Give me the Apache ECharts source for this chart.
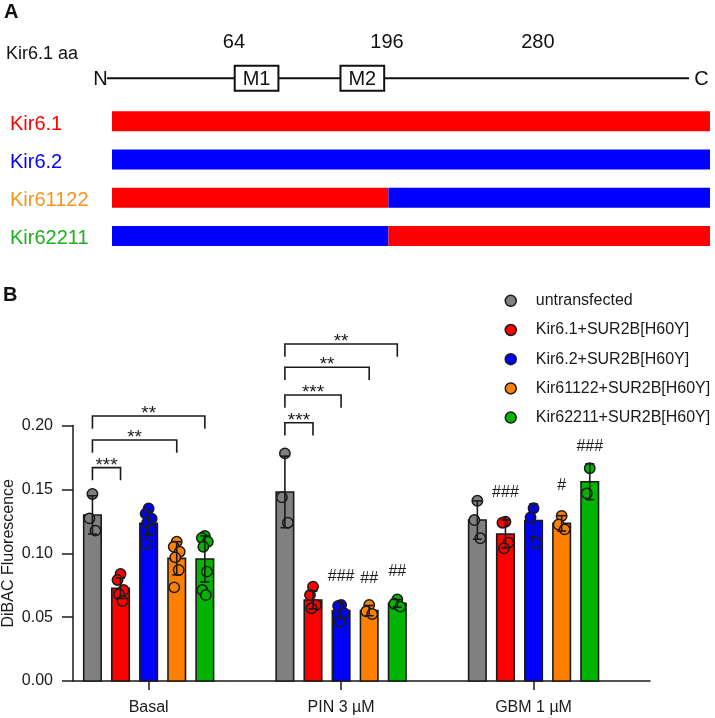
<!DOCTYPE html>
<html>
<head>
<meta charset="utf-8">
<script src="https://cdn.jsdelivr.net/npm/echarts@6/dist/echarts.min.js"></script>
<style>
  html, body { margin: 0; padding: 0; background: #fff; }
  #chart { width: 715px; height: 718px; }
</style>
</head>
<body>
<div id="chart"></div>
<script>
var myChart = echarts.init(document.getElementById('chart'));

// ---- panel A data ----
var constructs = ['Kir6.1', 'Kir6.2', 'Kir61122', 'Kir62211'];
var proteinLength = 424;
var firstSegment = [424, 424, 196, 196];
var secondSegment = [0, 0, 228, 228];
var domains = [['M1', 87, 118], ['M2', 162, 193]];
var residueLabels = [['64', 86.5], ['196', 195], ['280', 302]];

// ---- panel B data ----
var groups = ['Basal', 'PIN 3 µM', 'GBM 1 µM'];
var conditions = ['untransfected', 'Kir6.1+SUR2B[H60Y]', 'Kir6.2+SUR2B[H60Y]', 'Kir61122+SUR2B[H60Y]', 'Kir62211+SUR2B[H60Y]'];

var meanUntransfected = [0.130, 0.148, 0.126];
var meanKir61 = [0.0726, 0.0634, 0.1151];
var meanKir62 = [0.1234, 0.0551, 0.1255];
var meanKir61122 = [0.0960, 0.0551, 0.1234];
var meanKir62211 = [0.0955, 0.0608, 0.1560];

var sdUntransfected = [0.015, 0.028, 0.015];
var sdKir61 = [0.008, 0.007, 0.011];
var sdKir62 = [0.009, 0.006, 0.013];
var sdKir61122 = [0.013, 0.004, 0.006];
var sdKir62211 = [0.018, 0.003, 0.014];

var ptsUntransfected = [[0.1464, 0.1273, 0.1177], [0.1782, 0.1438, 0.1239], [0.1411, 0.1260, 0.1117]];
var ptsKir61 = [[0.0838, 0.0791, 0.0712, 0.0679, 0.0626], [0.0738, 0.0673, 0.0595, 0.0569], [0.1247, 0.1239, 0.1083, 0.1039]];
var ptsKir62 = [[0.1350, 0.1310, 0.1270, 0.1240, 0.1180, 0.1075], [0.0595, 0.0587, 0.0530, 0.0464], [0.1352, 0.1281, 0.1078]];
var ptsKir61122 = [[0.1090, 0.1051, 0.1012, 0.0968, 0.0869, 0.0733], [0.0595, 0.0545, 0.0524], [0.1292, 0.1225, 0.1187]];
var ptsKir62211 = [[0.1135, 0.1120, 0.1090, 0.1051, 0.0856, 0.0712, 0.0673], [0.0639, 0.0605, 0.0582], [0.1665, 0.1469]];

// [group, from condition, to condition, bracket height, stars]
var brackets = [
    [1, 0, 1, 0.1670, '***'],
    [1, 0, 3, 0.1887, '**'],
    [1, 0, 4, 0.2074, '**'],
    [2, 0, 1, 0.2022, '***'],
    [2, 0, 2, 0.2239, '***'],
    [2, 0, 3, 0.2456, '**'],
    [2, 0, 4, 0.2638, '**']
];
// [group, condition, label height, marks]
var hashes = [
    [2, 2, 0.0816, '###'],
    [2, 3, 0.0804, '##'],
    [2, 4, 0.0856, '##'],
    [3, 1, 0.1474, '###'],
    [3, 3, 0.1526, '#'],
    [3, 4, 0.1834, '###']
];

var means = [meanUntransfected, meanKir61, meanKir62, meanKir61122, meanKir62211];
var sds = [sdUntransfected, sdKir61, sdKir62, sdKir61122, sdKir62211];
var points = [ptsUntransfected, ptsKir61, ptsKir62, ptsKir61122, ptsKir62211];

var colors = ['#808080', '#ff0000', '#0000ff', '#ff8000', '#00b400'];
var labelColors = ['#ff0000', '#0000ff', '#f7931e', '#1fae1f'];
var segColor1 = ['#ff0000', '#0000ff', '#ff0000', '#0000ff'];
var segColor2 = ['#ff0000', '#0000ff', '#0000ff', '#ff0000'];
var FONT = '"Liberation Sans", Arial, sans-serif';
var INK = '#1a1a1a';
var barStep = 28.1, barW = 17.5;
var jitter = [0, -3, 3, -1.5, 2, -2.5, 1];

function condRender(si) {
    return function (params, api) {
        var g = api.value(0), mean = api.value(1), sd = api.value(2);
        var top = api.coord([g, mean]);
        var base = api.coord([g, 0]);
        var x = top[0] + (si - 2) * barStep;
        var kids = [{
            type: 'rect',
            shape: {x: x - barW / 2, y: top[1], width: barW, height: base[1] - top[1]},
            style: {fill: colors[si], stroke: INK, lineWidth: 1.6}
        }];
        points[si][g - 1].forEach(function (v, k) {
            var p = api.coord([g, v]);
            kids.push({
                type: 'circle',
                shape: {cx: x + jitter[k % jitter.length], cy: p[1], r: 5.2},
                style: {fill: colors[si], stroke: INK, lineWidth: 1.5}
            });
        });
        var hi = api.coord([g, mean + sd])[1], lo = api.coord([g, mean - sd])[1];
        kids.push({type: 'line', shape: {x1: x, y1: hi, x2: x, y2: lo}, style: {stroke: INK, lineWidth: 1.6}});
        kids.push({type: 'line', shape: {x1: x - 4.5, y1: hi, x2: x + 4.5, y2: hi}, style: {stroke: INK, lineWidth: 1.6}});
        kids.push({type: 'line', shape: {x1: x - 4.5, y1: lo, x2: x + 4.5, y2: lo}, style: {stroke: INK, lineWidth: 1.6}});
        return {type: 'group', children: kids};
    };
}

function bracketRender(params, api) {
    var b = brackets[api.value(2)];
    var p = api.coord([b[0], b[3]]);
    var x1 = p[0] + (b[1] - 2) * barStep, x2 = p[0] + (b[2] - 2) * barStep;
    var y = p[1], leg = 12.7;
    return {
        type: 'group',
        children: [
            {type: 'polyline', shape: {points: [[x1, y + leg], [x1, y], [x2, y], [x2, y + leg]]},
             style: {stroke: INK, lineWidth: 1.6, fill: null}},
            {type: 'text', style: {text: b[4], x: (x1 + x2) / 2, y: y - 2, align: 'center', verticalAlign: 'middle',
             fontSize: 19, fontFamily: FONT, fill: INK}}
        ]
    };
}

function hashRender(params, api) {
    var h = hashes[api.value(2)];
    var p = api.coord([h[0], h[2]]);
    return {
        type: 'text',
        style: {text: h[3], x: p[0] + (h[1] - 2) * barStep, y: p[1], align: 'center', verticalAlign: 'middle',
                fontSize: 16, fontFamily: FONT, fill: INK}
    };
}

function schematicRender(params, api) {
    var xs = api.coord([0, 0]), xe = api.coord([proteinLength, 0]);
    var ly = xs[1] - 43;
    var kids = [
        {type: 'line', shape: {x1: xs[0] - 5, y1: ly, x2: xe[0] - 21, y2: ly}, style: {stroke: '#111', lineWidth: 2}},
        {type: 'text', style: {text: 'N', x: xs[0] - 11.5, y: ly + 1, align: 'center', verticalAlign: 'middle', fontSize: 20, fontFamily: FONT, fill: '#111'}},
        {type: 'text', style: {text: 'C', x: xe[0] - 8.5, y: ly + 1, align: 'center', verticalAlign: 'middle', fontSize: 20, fontFamily: FONT, fill: '#111'}}
    ];
    domains.forEach(function (d) {
        var a = api.coord([d[1], 0])[0], b = api.coord([d[2], 0])[0];
        kids.push({type: 'rect', shape: {x: a, y: ly - 12.5, width: b - a, height: 25}, style: {fill: '#fff', stroke: '#111', lineWidth: 2}});
        kids.push({type: 'text', style: {text: d[0], x: (a + b) / 2, y: ly + 1, align: 'center', verticalAlign: 'middle', fontSize: 20, fontFamily: FONT, fill: '#111'}});
    });
    residueLabels.forEach(function (r) {
        var a = api.coord([r[1], 0])[0];
        kids.push({type: 'text', style: {text: r[0], x: a, y: ly - 36, align: 'center', verticalAlign: 'middle', fontSize: 20, fontFamily: FONT, fill: '#111'}});
    });
    return {type: 'group', children: kids};
}

var series = conditions.map(function (name, si) {
    return {
        name: name,
        type: 'custom',
        xAxisIndex: 0,
        yAxisIndex: 0,
        itemStyle: {color: colors[si]},
        renderItem: condRender(si),
        data: means[si].map(function (m, gi) { return [gi + 1, m, sds[si][gi]]; })
    };
});
series.push({
    type: 'custom', xAxisIndex: 0, yAxisIndex: 0, silent: true, renderItem: bracketRender,
    data: brackets.map(function (b, i) { return [b[0], b[3], i]; })
});
series.push({
    type: 'custom', xAxisIndex: 0, yAxisIndex: 0, silent: true, renderItem: hashRender,
    data: hashes.map(function (h, i) { return [h[0], h[2], i]; })
});
series.push({
    type: 'bar', xAxisIndex: 1, yAxisIndex: 1, stack: 'kir', barWidth: 20, silent: true,
    data: firstSegment.map(function (v, i) { return {value: v, itemStyle: {color: segColor1[i]}}; })
});
series.push({
    type: 'bar', xAxisIndex: 1, yAxisIndex: 1, stack: 'kir', barWidth: 20, silent: true,
    data: secondSegment.map(function (v, i) { return {value: v, itemStyle: {color: segColor2[i]}}; })
});
series.push({
    type: 'custom', xAxisIndex: 1, yAxisIndex: 1, silent: true, renderItem: schematicRender,
    data: [[0, 0]]
});

var option = {
    animation: false,
    textStyle: {fontFamily: FONT},
    graphic: [
        {type: 'text', left: 4, top: 2, style: {text: 'A', font: 'bold 20px ' + FONT, fill: '#111'}},
        {type: 'text', left: 3, top: 285, style: {text: 'B', font: 'bold 20px ' + FONT, fill: '#111'}},
        {type: 'text', left: 6, top: 45, style: {text: 'Kir6.1 aa', font: '18px ' + FONT, fill: '#111'}}
    ],
    legend: {
        orient: 'vertical',
        left: 499.5,
        top: 286.8,
        itemWidth: 40,
        itemHeight: 11,
        itemGap: 11.2,
        symbolKeepAspect: true,
        itemStyle: {borderColor: INK, borderWidth: 1.5},
        textStyle: {fontSize: 16, lineHeight: 18, color: INK, fontFamily: FONT},
        data: conditions.map(function (n) { return {name: n, icon: 'circle'}; })
    },
    grid: [
        {left: 73, right: 65, top: 425.5, bottom: 37, containLabel: false, outerBoundsMode: 'none'},
        {left: 112, right: 5, top: 102.2, height: 152.8, containLabel: false, outerBoundsMode: 'none'}
    ],
    xAxis: [
        {
            gridIndex: 0,
            type: 'value',
            min: 0.607,
            max: 3.605,
            splitLine: {show: false},
            axisLine: {show: true, lineStyle: {color: INK, width: 1.5}},
            axisTick: {show: true, customValues: [1, 2, 3], length: 9, lineStyle: {color: INK, width: 1.5}},
            axisLabel: {
                customValues: [1, 2, 3],
                margin: 19,
                fontSize: 16,
                color: INK,
                formatter: function (v) { return groups[Math.round(v) - 1]; }
            }
        },
        {
            gridIndex: 1,
            type: 'value',
            min: 0,
            max: proteinLength,
            show: false
        }
    ],
    yAxis: [
        {
            gridIndex: 0,
            type: 'value',
            min: 0,
            max: 0.2,
            interval: 0.05,
            name: 'DiBAC Fluorescence',
            nameLocation: 'middle',
            nameRotate: 90,
            nameGap: 56,
            nameMoveOverlap: false,
            nameTextStyle: {fontSize: 16, color: INK},
            splitLine: {show: false},
            axisLine: {show: true, lineStyle: {color: INK, width: 1.5}},
            axisTick: {show: true, length: 11, lineStyle: {color: INK, width: 1.5}},
            axisLabel: {
                fontSize: 16,
                margin: 20,
                color: INK,
                formatter: function (v) { return v.toFixed(2); }
            }
        },
        {
            gridIndex: 1,
            type: 'category',
            inverse: true,
            data: constructs,
            axisLine: {show: false},
            axisTick: {show: false},
            axisLabel: {
                align: 'left',
                margin: 102,
                fontSize: 20,
                padding: [6, 0, 0, 0],
                formatter: function (v) { return '{c' + constructs.indexOf(v) + '|' + v + '}'; },
                rich: {
                    c0: {color: labelColors[0], fontSize: 20},
                    c1: {color: labelColors[1], fontSize: 20},
                    c2: {color: labelColors[2], fontSize: 20},
                    c3: {color: labelColors[3], fontSize: 20}
                }
            }
        }
    ],
    series: series
};

myChart.setOption(option);
</script>
</body>
</html>
